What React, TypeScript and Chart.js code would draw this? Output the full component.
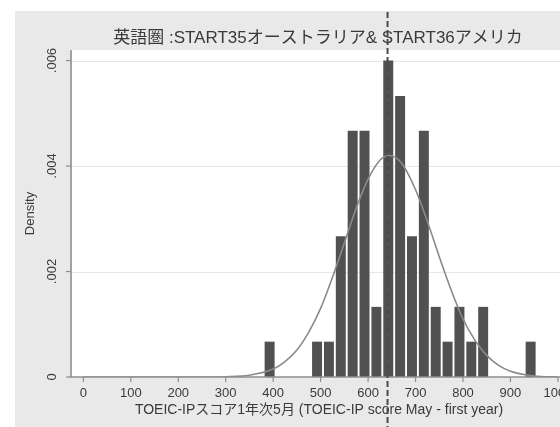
import React, { useEffect, useRef } from "react";
import { Chart, registerables } from "chart.js";

Chart.register(...registerables);

// ---- data ----
const titleText = "英語圏 :START35オーストラリア& START36アメリカ";
const xAxisTitle = "TOEIC-IPスコア1年次5月 (TOEIC-IP score May - first year)";
const yAxisTitle = "Density";

const binWidth = 25;
const binStarts = [380, 405, 430, 455, 480, 505, 530, 555, 580, 605, 630, 655, 680, 705, 730, 755, 780, 805, 830, 855, 880, 905, 930];
const binDensities = [0.00067, 0, 0, 0, 0.00067, 0.00067, 0.00267, 0.00467, 0.00467, 0.00133, 0.006, 0.00533, 0.00267, 0.00467, 0.00133, 0.00067, 0.00133, 0.00067, 0.00133, 0, 0, 0, 0.00067];

const curveX = [0, 100, 200, 250, 300, 350, 400, 425, 450, 475, 500, 525, 550, 575, 600, 625, 645, 670, 700, 725, 750, 775, 800, 825, 850, 875, 900, 950, 1000];
const curveY = [0, 0, 0, 0, 0.000006, 0.000034, 0.00015, 0.00029, 0.00051, 0.00085, 0.0013, 0.00189, 0.00254, 0.0032, 0.00375, 0.00411, 0.0042, 0.00406, 0.00355, 0.00295, 0.00228, 0.00165, 0.0011, 0.0007, 0.00041, 0.00022, 0.00011, 0.00002, 0];

const xTicks = [0, 100, 200, 300, 400, 500, 600, 700, 800, 900, 1000];
const xTickLabels = ["0", "100", "200", "300", "400", "500", "600", "700", "800", "900", "1000"];
const yTicks = [0, 0.002, 0.004, 0.006];
const yTickLabels = ["0", ".002", ".004", ".006"];
const markerValue = 641;

const FONT = '"Liberation Sans", "Noto Sans CJK JP", sans-serif';
const TEXT = "#3a3a3a";
const AXIS = "#8e8e8e";

const decorPlugin = {
  id: "stataDecor",
  beforeDraw(chart: any) {
    const { ctx, width, height, chartArea } = chart;
    ctx.save();
    ctx.fillStyle = "#ffffff";
    ctx.fillRect(0, 0, width, height);
    ctx.fillStyle = "#e9e9e9";
    ctx.fillRect(15, 11, width - 15, height - 11);
    ctx.fillStyle = "#ffffff";
    ctx.fillRect(chartArea.left, chartArea.top, chartArea.right - chartArea.left, chartArea.bottom - chartArea.top);
    // grid
    const ys = chart.scales.y;
    ctx.strokeStyle = "#e6e6e6";
    ctx.lineWidth = 1;
    yTicks.forEach((v) => {
      if (v === 0) return;
      const py = Math.round(ys.getPixelForValue(v)) + 0.5;
      ctx.beginPath();
      ctx.moveTo(chartArea.left, py);
      ctx.lineTo(chartArea.right, py);
      ctx.stroke();
    });
    ctx.restore();
  },
  afterDatasetsDraw(chart: any) {
    const { ctx, chartArea } = chart;
    const xs = chart.scales.x;
    const ys = chart.scales.y;
    ctx.save();
    // axes
    ctx.strokeStyle = AXIS;
    ctx.lineWidth = 1.6;
    ctx.beginPath();
    ctx.moveTo(chartArea.left, chartArea.top);
    ctx.lineTo(chartArea.left, chartArea.bottom);
    ctx.lineTo(chartArea.right, chartArea.bottom);
    ctx.stroke();
    // x ticks
    ctx.lineWidth = 1.2;
    ctx.fillStyle = TEXT;
    ctx.font = `13px ${FONT}`;
    ctx.textAlign = "center";
    ctx.textBaseline = "middle";
    xTicks.forEach((v, i) => {
      const px = xs.getPixelForValue(v);
      ctx.beginPath();
      ctx.moveTo(px, chartArea.bottom);
      ctx.lineTo(px, chartArea.bottom + 5);
      ctx.stroke();
      ctx.fillText(xTickLabels[i], px, 393);
    });
    // y ticks
    yTicks.forEach((v, i) => {
      const py = ys.getPixelForValue(v);
      ctx.beginPath();
      ctx.moveTo(chartArea.left, py);
      ctx.lineTo(chartArea.left - 5, py);
      ctx.stroke();
      ctx.save();
      ctx.translate(52, py);
      ctx.rotate(-Math.PI / 2);
      ctx.fillText(yTickLabels[i], 0, 0);
      ctx.restore();
    });
    // axis titles
    ctx.font = `14px ${FONT}`;
    ctx.fillText(xAxisTitle, 319, 410);
    ctx.save();
    ctx.translate(30, (chartArea.top + chartArea.bottom) / 2);
    ctx.rotate(-Math.PI / 2);
    ctx.font = `13px ${FONT}`;
    ctx.fillText(yAxisTitle, 0, 0);
    ctx.restore();
    // title
    ctx.font = `17px ${FONT}`;
    ctx.fillText(titleText, 318, 38.5);
    ctx.restore();
  },
  afterDraw(chart: any) {
    const { ctx, height } = chart;
    const px = chart.scales.x.getPixelForValue(markerValue);
    ctx.save();
    ctx.strokeStyle = "#4a4a4a";
    ctx.lineWidth = 2;
    ctx.setLineDash([6, 3]);
    ctx.beginPath();
    ctx.moveTo(px, 12);
    ctx.lineTo(px, height);
    ctx.stroke();
    ctx.restore();
  },
};

export default function App() {
  const ref = useRef<HTMLCanvasElement | null>(null);
  useEffect(() => {
    if (!ref.current) return;
    const chart = new Chart(ref.current, {
      type: "bar",
      data: {
        datasets: [
          {
            type: "line",
            data: curveX.map((x, i) => ({ x, y: curveY[i] })),
            borderColor: "#8a8a8a",
            borderWidth: 1.6,
            pointRadius: 0,
            cubicInterpolationMode: "monotone",
            fill: false,
            order: 0,
          } as any,
          {
            type: "bar",
            data: binStarts.map((s, i) => ({ x: s + binWidth / 2, y: binDensities[i] })),
            backgroundColor: "#515151",
            borderWidth: 0,
            barPercentage: 0.84,
            categoryPercentage: 1,
            order: 1,
          } as any,
        ],
      },
      options: {
        responsive: false,
        animation: false,
        events: [],
        layout: { padding: { left: 71, top: 50, right: 25, bottom: 50 } },
        plugins: { legend: { display: false }, title: { display: false }, tooltip: { enabled: false } },
        scales: {
          x: { type: "linear", min: -26, max: 1036, offset: false, display: false, ticks: { stepSize: 100 } },
          y: { type: "linear", min: 0, max: 0.0062, display: false },
        },
      },
      plugins: [decorPlugin],
    });
    return () => chart.destroy();
  }, []);
  return (
    <div style={{ position: "fixed", left: 0, top: 0, width: 560, height: 427, overflow: "hidden", background: "#fff" }}>
      <canvas ref={ref} width={600} height={427} style={{ display: "block", width: 600, height: 427 }} />
    </div>
  );
}
